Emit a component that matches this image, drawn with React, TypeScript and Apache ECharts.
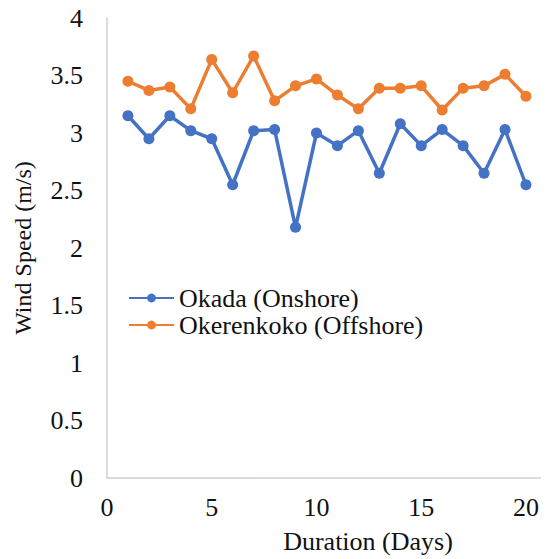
import React, { useEffect, useRef } from "react";
import * as echarts from "echarts";

const days = [1, 2, 3, 4, 5, 6, 7, 8, 9, 10, 11, 12, 13, 14, 15, 16, 17, 18, 19, 20];
const okada = [3.15, 2.95, 3.15, 3.02, 2.95, 2.55, 3.02, 3.03, 2.18, 3.0, 2.89, 3.02, 2.65, 3.08, 2.89, 3.03, 2.89, 2.65, 3.03, 2.55];
const okerenkoko = [3.45, 3.37, 3.4, 3.21, 3.64, 3.35, 3.67, 3.28, 3.41, 3.47, 3.33, 3.21, 3.39, 3.39, 3.41, 3.2, 3.39, 3.41, 3.51, 3.32];
const seriesNames = ["Okada (Onshore)", "Okerenkoko (Offshore)"];
const xTitle = "Duration (Days)";
const yTitle = "Wind Speed (m/s)";

const FONT = "Liberation Serif";

export default function App() {
  const ref = useRef<HTMLDivElement>(null);
  useEffect(() => {
    if (!ref.current) return;
    const chart = echarts.init(ref.current, null, { renderer: "svg" });
    const mk = (name: string, vals: number[], color: string) => ({
      name,
      type: "line",
      data: days.map((d, i) => [d, vals[i]]),
      symbol: "circle",
      symbolSize: 11,
      lineStyle: { width: 3.5, color },
      itemStyle: { color },
      color,
    });
    chart.setOption({
      animation: false,
      textStyle: { fontFamily: FONT },
      grid: { left: 107, right: 0, top: 18, bottom: 77 },
      legend: {
        orient: "vertical",
        left: 128,
        top: 285,
        padding: 0,
        itemWidth: 45,
        itemHeight: 11,
        itemGap: 1,
        textStyle: { fontFamily: FONT, fontSize: 26, color: "#111" },
        data: seriesNames,
      },
      xAxis: {
        type: "value",
        min: 0,
        max: 21.1,
        interval: 5,
        name: xTitle,
        nameLocation: "middle",
        nameGap: 50,
        nameTextStyle: { fontFamily: FONT, fontSize: 26, color: "#111", padding: [0, 0, 0, 80] },
        axisLine: { show: true, lineStyle: { color: "#d0d0d0", width: 1.5 } },
        axisTick: { show: false },
        splitLine: { show: false },
        axisLabel: {
          fontFamily: FONT,
          fontSize: 26,
          color: "#111",
          margin: 16,
          showMaxLabel: false,
          formatter: (v: number) => (v % 5 === 0 ? String(v) : ""),
        },
      },
      yAxis: {
        type: "value",
        min: 0,
        max: 4,
        interval: 0.5,
        name: yTitle,
        nameLocation: "middle",
        nameGap: 72,
        nameTextStyle: { fontFamily: FONT, fontSize: 24, color: "#111" },
        axisLine: { show: true, lineStyle: { color: "#d0d0d0", width: 1.5 } },
        axisTick: { show: false },
        splitLine: { show: false },
        axisLabel: { fontFamily: FONT, fontSize: 26, color: "#111", margin: 24 },
      },
      series: [mk(seriesNames[0], okada, "#4472C4"), mk(seriesNames[1], okerenkoko, "#ED7D31")],
    });
    return () => chart.dispose();
  }, []);
  return <div ref={ref} style={{ width: 549, height: 559, marginTop: -8, marginLeft: -8 }} />;
}
